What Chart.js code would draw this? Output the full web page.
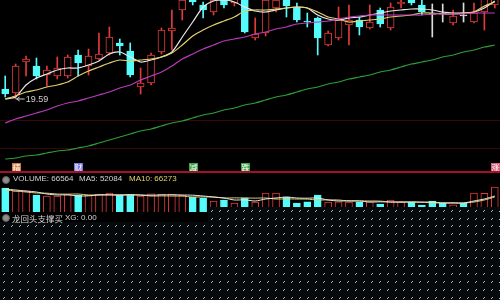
<!DOCTYPE html>
<html>
<head>
<meta charset="utf-8">
<script src="https://cdn.jsdelivr.net/npm/chart.js@4.4.0/dist/chart.umd.min.js"></script>
<style>
  html, body { margin: 0; padding: 0; background: #000; width: 500px; height: 300px; overflow: hidden;
    font-family: "Liberation Sans", Arial, sans-serif; }
  .box { position: absolute; left: 0; width: 500px; }
  #mainBox { top: 0; height: 172px; }
  #sep { top: 171px; height: 2px; background: #a8102a; }
  #volBox { top: 184px; height: 28px; }
  .dots { position: absolute; background-color: #070a0c; z-index: 2;
    background-image: url("data:image/svg+xml;utf8,<svg xmlns='http://www.w3.org/2000/svg' width='8' height='8'><line x1='3' y1='5' x2='5' y2='3' stroke='%23c4cccc' stroke-width='0.9'/></svg>"); }
  #dotsA { top: 207px; left: 208px; width: 292px; height: 15px; }
  #dotsB { top: 222px; left: 0; width: 500px; height: 78px; }
  .head { position: absolute; height: 10px; line-height: 10px; font-size: 8px; color: #d4d4d4; white-space: nowrap; z-index: 3; }
  .icon { position: absolute; width: 6px; height: 6px; border-radius: 50%; background: #8c8c8c;
    border: 1px solid #5a5a5a; z-index: 3; }
  #xgRow { position: absolute; left: 0; top: 212px; width: 208px; height: 10px; background: #000; z-index: 2; }
</style>
</head>
<body>
<div class="box" id="mainBox"><canvas id="mainChart"></canvas></div>
<div class="box" id="sep"></div>
<span class="icon" style="left:2px;top:176px"></span>
<span class="head" style="left:13px;top:174px">VOLUME: 66564</span>
<span class="head" style="left:79px;top:174px">MA5: 52084</span>
<span class="head" style="left:129px;top:174px;color:#e2d46a">MA10: 66273</span>
<div class="box" id="volBox"><canvas id="volChart"></canvas></div>
<div class="dots" id="dotsA"></div>
<div class="dots" id="dotsB"></div>
<div id="xgRow"></div>
<span class="icon" style="left:2px;top:214px"></span>
<span class="head" style="left:12px;top:213px;font-family:'Noto Sans CJK SC',sans-serif;font-size:8.5px">龙回头支撑买</span>
<span class="head" style="left:65px;top:213px">XG: 0.00</span>
<script>
// daily candles
const opens = [19.99, 19.83, 21.07, 20.91, 20.55, 20.51, 20.51, 21.35, 20.91, 21.19,
  21.43, 21.83, 21.51, 20.07, 20.23, 21.47, 22.31, 23.15, 23.75, 23.35,
  23.07, 23.63, 23.43, 23.63, 22.03, 22.23, 23.23, 23.59, 23.27, 22.71,
  22.83, 21.75, 22.03, 22.55, 22.75, 22.43, 23.15, 22.43, 23.39, 23.67,
  23.35, 22.97, 22.99, 22.63, 22.91, 22.67, 23.07, 23.35];
const closes = [19.79, 20.91, 21.19, 20.51, 20.75, 20.83, 21.27, 21.03, 21.31, 21.39,
  22.07, 21.71, 20.55, 20.23, 21.35, 22.35, 22.43, 23.55, 23.47, 23.15,
  23.55, 23.35, 23.71, 22.27, 22.19, 23.55, 23.55, 23.31, 22.75, 22.67,
  22.03, 22.23, 22.75, 22.75, 22.47, 22.67, 22.59, 23.27, 23.47, 23.43,
  23.07, 22.97, 22.99, 22.91, 22.91, 23.03, 23.63, 23.75];
const highs = [20.51, 20.99, 21.31, 21.23, 20.91, 21.27, 21.35, 21.55, 21.59, 22.23,
  22.47, 21.99, 21.83, 20.83, 21.43, 22.43, 23.15, 23.67, 23.87, 23.47,
  23.63, 23.75, 23.79, 23.71, 22.83, 23.67, 23.67, 23.67, 23.43, 23.03,
  22.87, 22.31, 23.27, 23.35, 22.87, 23.35, 23.23, 23.43, 23.59, 23.75,
  23.55, 23.39, 23.39, 23.15, 23.43, 23.43, 23.71, 23.79];
const lows = [19.67, 19.59, 20.51, 20.39, 20.11, 20.39, 20.43, 20.51, 20.55, 21.15,
  21.35, 21.35, 20.47, 19.79, 20.15, 21.39, 21.55, 22.75, 23.35, 22.83,
  22.95, 23.23, 23.31, 22.23, 21.95, 22.11, 23.07, 22.87, 22.67, 22.47,
  21.35, 21.71, 21.95, 21.75, 22.15, 22.39, 22.47, 22.35, 23.23, 23.35,
  22.95, 22.07, 22.67, 22.55, 22.67, 22.63, 22.35, 23.23];

// moving average lines as drawn
const ma5 = [19.59, 19.67, 20.15, 20.43, 20.59, 20.75, 20.83, 20.83, 20.95, 21.11,
  21.39, 21.47, 21.27, 21.07, 21.15, 21.27, 21.47, 22.07, 22.67, 23.27,
  23.51, 23.55, 23.47, 23.27, 23.11, 23.07, 23.15, 23.23, 23.27, 23.23,
  22.95, 22.79, 22.75, 22.83, 22.87, 22.95, 23.03, 23.11, 23.15, 23.19,
  23.19, 23.15, 23.07, 23.03, 23.03, 23.07, 23.23, 23.51];
const ma10 = [19.59, 19.71, 19.87, 19.95, 20.07, 20.15, 20.27, 20.51, 20.71, 20.87,
  21.03, 21.15, 21.11, 21.15, 21.19, 21.27, 21.43, 21.75, 22.11, 22.35,
  22.55, 22.71, 22.87, 23.11, 23.15, 23.15, 23.19, 23.23, 23.27, 23.23,
  23.07, 22.87, 22.79, 22.67, 22.71, 22.75, 22.79, 22.87, 22.91, 22.95,
  23.03, 23.03, 22.99, 22.99, 23.03, 23.07, 23.31, 23.47];
const ma20 = [18.63, 18.79, 18.91, 19.03, 19.15, 19.31, 19.43, 19.51, 19.63, 19.75,
  19.87, 20.03, 20.15, 20.35, 20.51, 20.67, 20.91, 21.19, 21.39, 21.59,
  21.75, 21.91, 21.99, 22.07, 22.19, 22.27, 22.39, 22.47, 22.59, 22.63,
  22.67, 22.71, 22.79, 22.87, 22.91, 22.95, 22.95, 22.95, 22.95, 22.95,
  22.95, 22.99, 22.99, 22.99, 22.99, 23.03, 23.03, 23.03];
const ma60 = [17.19, 17.23, 17.31, 17.35, 17.43, 17.51, 17.55, 17.63, 17.71, 17.83,
  17.95, 18.07, 18.19, 18.31, 18.39, 18.51, 18.63, 18.71, 18.83, 18.95,
  19.03, 19.15, 19.23, 19.35, 19.43, 19.55, 19.67, 19.75, 19.87, 19.99,
  20.07, 20.19, 20.27, 20.39, 20.47, 20.55, 20.67, 20.75, 20.87, 20.99,
  21.07, 21.15, 21.27, 21.35, 21.47, 21.55, 21.67, 21.75];

// volume panel
const volumes = [63900, 55900, 56300, 45300, 42600, 42100, 45800, 44900, 45300, 47900,
  50600, 45500, 46200, 42600, 48400, 47600, 47900, 45100, 39900, 37300,
  29300, 32000, 24000, 37800, 26600, 50600, 50100, 39900, 23700, 26900,
  45300, 26600, 27200, 26100, 26400, 27000, 21300, 32000, 26600, 26300,
  18600, 29300, 24000, 18900, 23500, 50600, 49800, 66564];
const volMa5 = [61200, 58600, 55900, 53300, 47900, 45300, 45800, 42600, 43100, 45300,
  45900, 45300, 46100, 45200, 44700, 45600, 46000, 45300, 44800, 42600,
  39900, 37300, 32000, 32400, 29300, 34600, 37300, 39900, 37300, 36800,
  37300, 32000, 29300, 29800, 29300, 26600, 27100, 26600, 26300, 26600,
  26200, 26600, 24000, 24300, 24000, 29300, 34600, 42600];
const volMa10 = [58600, 55900, 53300, 50600, 50100, 47900, 47600, 47900, 45300, 45700,
  45300, 45000, 45300, 45100, 42600, 42900, 42600, 42300, 39900, 40200,
  39900, 37300, 37600, 37300, 37000, 37300, 34600, 34900, 34600, 34300,
  32000, 32300, 32000, 29300, 29600, 29300, 29000, 26600, 26900, 26600,
  26300, 24000, 24300, 24000, 23800, 26600, 32000, 39900];

// signal markers under the candles
const signalIdx = [1, 7, 18, 23, 47];
const signalText = ['精', '财', '减', '跌', '涨'];
const signalColor = ['#cf7a3a', '#7878e0', '#3fa54a', '#3fa54a', '#d4607a'];

const gridPrices = [17.63, 18.75];
const priceMin = 16.67, priceMax = 23.55;
const volMax = 74600;

const days = opens.map((_, i) => 'D' + (i + 1));
const UP = '#e23b3b', DOWN = '#54fcfc', FLAT = '#dcdcdc';
const dir = closes.map((c, i) => c > opens[i] ? 1 : (c < opens[i] ? -1 : 0));
const candleColor = dir.map(d => d > 0 ? UP : (d < 0 ? DOWN : FLAT));

function maLine(data, color) {
  return { type: 'line', data: data, borderColor: color, borderWidth: 1.2, pointRadius: 0,
    tension: 0.25, fill: false, order: 1 };
}

const lowMarker = {
  id: 'lowMarker',
  afterDatasetsDraw(chart) {
    const ctx = chart.ctx;
    let idx = 0;
    lows.forEach((v, i) => { if (v < lows[idx]) idx = i; });
    const x = chart.scales.x.getPixelForValue(idx);
    const y = chart.scales.y.getPixelForValue(lows[idx]);
    ctx.save();
    ctx.strokeStyle = '#cfcfcf';
    ctx.fillStyle = '#cfcfcf';
    ctx.lineWidth = 1;
    ctx.beginPath();
    ctx.moveTo(x + 1, y); ctx.lineTo(x + 9, y);
    ctx.moveTo(x + 1, y); ctx.lineTo(x + 4, y - 2);
    ctx.moveTo(x + 1, y); ctx.lineTo(x + 4, y + 2);
    ctx.stroke();
    ctx.font = '9px "Liberation Sans", Arial, sans-serif';
    ctx.textBaseline = 'middle';
    ctx.fillText(lows[idx].toFixed(2), x + 10, y + 0.5);
    ctx.restore();
  }
};

const signals = {
  id: 'signals',
  afterDatasetsDraw(chart) {
    const ctx = chart.ctx;
    const bottom = chart.chartArea.bottom;
    ctx.save();
    ctx.font = '8px "Noto Sans CJK SC", sans-serif';
    ctx.textAlign = 'center';
    ctx.textBaseline = 'middle';
    signalIdx.forEach((idx, k) => {
      const x = Math.round(chart.scales.x.getPixelForValue(idx));
      ctx.fillStyle = signalColor[k];
      ctx.fillRect(x - 4, bottom - 9, 9, 9);
      ctx.fillStyle = '#ffffff';
      ctx.fillText(signalText[k], x + 0.5, bottom - 4.5);
    });
    ctx.restore();
  }
};

new Chart(document.getElementById('mainChart'), {
  type: 'bar',
  data: {
    labels: days,
    datasets: [
      { type: 'bar', data: days.map((_, i) => [lows[i], highs[i]]), backgroundColor: candleColor,
        barThickness: 1, grouped: false, order: 3 },
      { type: 'bar', data: days.map((_, i) => [opens[i], closes[i]]),
        backgroundColor: dir.map((d, i) => d > 0 ? '#000000' : candleColor[i]),
        borderColor: candleColor, borderWidth: 1, borderSkipped: false, barThickness: 7,
        minBarLength: 1, grouped: false, order: 2 },
      maLine(ma60, '#2f9e37'),
      maLine(ma20, '#b83cba'),
      maLine(ma10, '#e2cf6c'),
      maLine(ma5, '#e8e8e8')
    ]
  },
  options: {
    responsive: true,
    maintainAspectRatio: false,
    animation: false,
    layout: { padding: 0 },
    scales: {
      x: { display: false, offset: true },
      y: {
        min: priceMin, max: priceMax,
        afterBuildTicks: s => { s.ticks = gridPrices.map(v => ({ value: v })); },
        ticks: { display: false },
        border: { display: false },
        grid: { color: 'rgba(95,10,16,0.6)', drawTicks: false, lineWidth: 1 }
      }
    },
    plugins: { legend: { display: false }, tooltip: { enabled: false } }
  },
  plugins: [lowMarker, signals]
});

new Chart(document.getElementById('volChart'), {
  type: 'bar',
  data: {
    labels: days,
    datasets: [
      { type: 'bar', data: volumes,
        backgroundColor: dir.map(d => d > 0 ? '#000000' : DOWN),
        borderColor: dir.map(d => d > 0 ? UP : DOWN),
        borderWidth: 1, barThickness: 7, order: 2 },
      { type: 'line', data: volMa5, borderColor: '#e8e8e8', borderWidth: 1, pointRadius: 0, tension: 0.25, order: 1 },
      { type: 'line', data: volMa10, borderColor: '#e2cf6c', borderWidth: 1, pointRadius: 0, tension: 0.25, order: 1 }
    ]
  },
  options: {
    responsive: true,
    maintainAspectRatio: false,
    animation: false,
    layout: { padding: 0 },
    scales: {
      x: { display: false, offset: true },
      y: { display: false, min: 0, max: volMax }
    },
    plugins: { legend: { display: false }, tooltip: { enabled: false } }
  }
});
</script>
</body>
</html>
